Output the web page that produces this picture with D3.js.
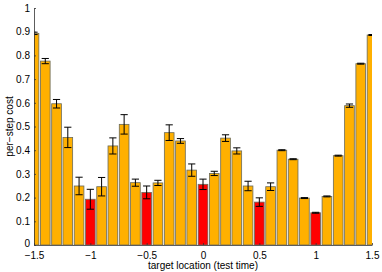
<!DOCTYPE html>
<html>
<head>
<meta charset="utf-8">
<script src="https://cdn.jsdelivr.net/npm/d3@7"></script>
<style>
body { margin: 0; background: #fff; }
svg { font-family: "Liberation Sans", Arial, sans-serif; }
</style>
</head>
<body>
<script>
const w = 382;
const h = 272;

// target locations, per-step cost and error bar half-widths
const locations = [-1.5,-1.4,-1.3,-1.2,-1.1,-1.0,-0.9,-0.8,-0.7,-0.6,-0.5,-0.4,-0.3,-0.2,-0.1,0,0.1,0.2,0.3,0.4,0.5,0.6,0.7,0.8,0.9,1.0,1.1,1.2,1.3,1.4,1.5];
const costs = [0.893,0.776,0.596,0.454,0.249,0.193,0.246,0.418,0.509,0.263,0.222,0.262,0.474,0.439,0.316,0.256,0.302,0.451,0.397,0.249,0.181,0.246,0.400,0.362,0.198,0.136,0.205,0.377,0.588,0.765,0.886];
const errors = [0.005,0.011,0.018,0.043,0.037,0.042,0.039,0.034,0.041,0.015,0.027,0.011,0.033,0.010,0.026,0.022,0.009,0.014,0.013,0.020,0.018,0.016,0.002,0.002,0.002,0.002,0.002,0.002,0.007,0.002,0.002];
const redLocations = [-1, -0.5, 0, 0.5, 1];
const xTicks = [-1.5, -1, -0.5, 0, 0.5, 1, 1.5];
const yTicks = [0, 0.1, 0.2, 0.3, 0.4, 0.5, 0.6, 0.7, 0.8, 0.9, 1];

const data = locations.map((x, i) => ({x: x, y: costs[i], e: errors[i]}));

const mL = 34, mR = 372, mT = 8, mB = 245;

const x = d3.scaleLinear().domain([-1.5, 1.5]).range([mL, mR]);
const y = d3.scaleLinear().domain([0, 1]).range([mB, mT]);
const barW = 0.086;

const fmt = d => (d < 0 ? '\u2212' : '') + Math.abs(d);

const svg = d3.select('body').append('svg')
  .attr('width', w)
  .attr('height', h);

svg.append('clipPath').attr('id', 'clip')
  .append('rect')
  .attr('x', mL).attr('y', mT - 5)
  .attr('width', mR - mL).attr('height', mB - mT + 5);

const plot = svg.append('g').attr('clip-path', 'url(#clip)');

plot.selectAll('rect.bar')
  .data(data)
  .enter()
  .append('rect')
  .attr('class', 'bar')
  .attr('x', d => x(d.x - barW / 2))
  .attr('y', d => y(d.y))
  .attr('width', x(barW) - x(0))
  .attr('height', d => y(0) - y(d.y))
  .style('fill', d => redLocations.some(r => Math.abs(r - d.x) < 1e-6) ? '#ff0000' : '#ffb000')
  .style('stroke', '#6b6b5a')
  .style('stroke-width', 0.8);

const eb = plot.selectAll('g.err')
  .data(data)
  .enter()
  .append('g')
  .attr('class', 'err')
  .style('stroke', '#000')
  .style('stroke-width', 1);

eb.append('line')
  .attr('x1', d => x(d.x)).attr('x2', d => x(d.x))
  .attr('y1', d => y(d.y - d.e)).attr('y2', d => y(d.y + d.e));
eb.append('line')
  .attr('x1', d => x(d.x - 0.032)).attr('x2', d => x(d.x + 0.032))
  .attr('y1', d => y(d.y + d.e)).attr('y2', d => y(d.y + d.e));
eb.append('line')
  .attr('x1', d => x(d.x - 0.032)).attr('x2', d => x(d.x + 0.032))
  .attr('y1', d => y(d.y - d.e)).attr('y2', d => y(d.y - d.e));

const xAxis = svg.append('g')
  .attr('transform', `translate(0,${mB})`)
  .call(d3.axisBottom(x).tickValues(xTicks).tickFormat(fmt).tickSizeInner(-2).tickSizeOuter(0).tickPadding(6));

const yAxis = svg.append('g')
  .attr('transform', `translate(${mL},0)`)
  .call(d3.axisLeft(y).tickValues(yTicks).tickFormat(d => d).tickSizeInner(-2).tickSizeOuter(0).tickPadding(4));

[xAxis, yAxis].forEach(a => {
  a.selectAll('path, line').attr('stroke', '#333').attr('stroke-width', 0.8);
  a.selectAll('text').attr('fill', '#000').style('font-size', '10px').style('font-family', '"Liberation Sans", Arial, sans-serif');
});
xAxis.selectAll('text').attr('dy', '0.75em');
// lift the zero label a little so it clears the first x tick label
yAxis.selectAll('.tick text').filter(d => d === 0).attr('dy', '0.1em');

svg.append('text')
  .attr('x', (mL + mR) / 2)
  .attr('y', 269)
  .attr('text-anchor', 'middle')
  .style('font-size', '10px')
  .text('target location (test time)');

svg.append('text')
  .attr('transform', `translate(13,${(mT + mB) / 2}) rotate(-90)`)
  .attr('text-anchor', 'middle')
  .style('font-size', '10px')
  .text('per\u2212step cost');
</script>
</body>
</html>
